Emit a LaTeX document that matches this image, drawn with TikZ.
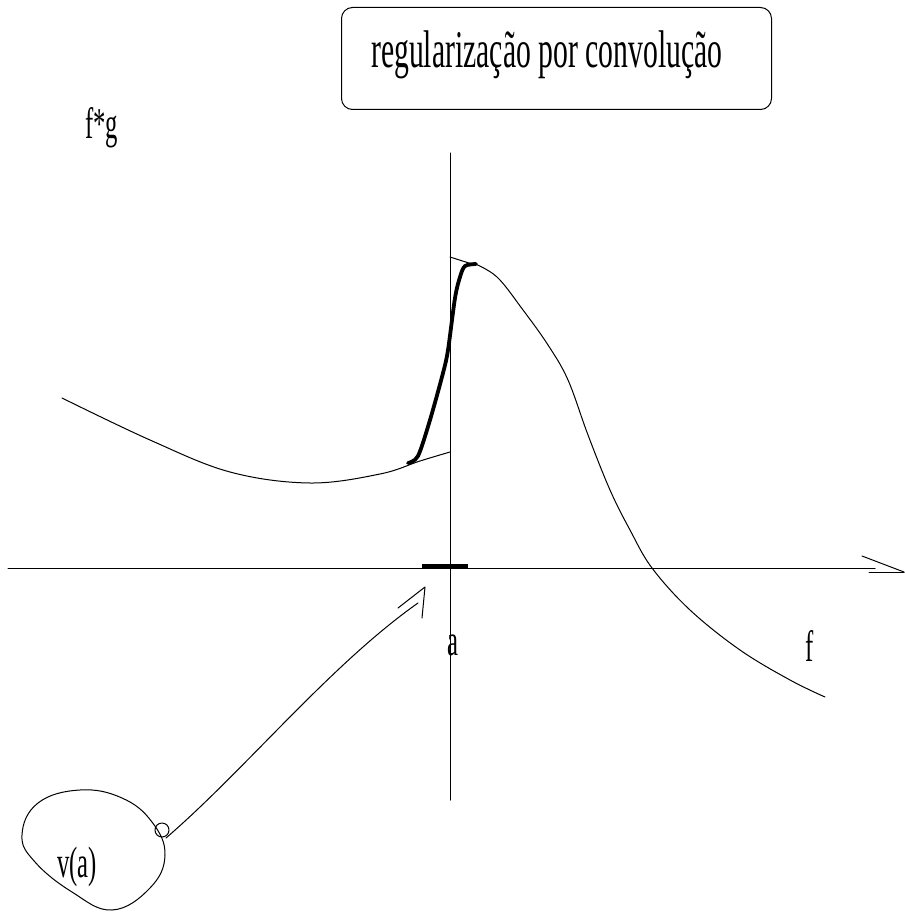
\documentclass[tikz,border=0pt]{standalone}
\usepackage{fontspec}
\setmainfont{Liberation Serif}
\newfontfamily\condf[FakeStretch=0.56]{Liberation Serif}
\begin{document}
\begin{tikzpicture}[x=1pt,y=-1pt,
  thinline/.style={line width=1pt, line cap=round, line join=round},
  boldline/.style={line width=3.8pt, line cap=round, line join=round},
  titlebox/.style={draw, line width=1pt, rounded corners=11pt, minimum width=430pt, minimum height=102pt, inner sep=0pt},
  lbl/.style={font=\condf\fontsize{44}{44}\selectfont, inner sep=0pt, anchor=base west},
  biglbl/.style={font=\condf\fontsize{53}{53}\selectfont, inner sep=0pt, anchor=base west}]
\useasboundingbox (0,0) rectangle (904,912);
% title box
\node[titlebox] (title) at (556.5,58.5) {};
\node[biglbl] (titletext) at (371,68) {regularização por convolução};
% labels
\node[lbl] (fg) at (85,139) {f*g};
\node[lbl] (alab) at (447,655) {a};
\node[lbl] (flab) at (805,661) {f};
\node[lbl] (va) at (57,877) {v(a)};
% axes
\coordinate (ytop) at (450,153);
\coordinate (ybot) at (450,800);
\coordinate (xl) at (8,568);
\coordinate (xr) at (875,568);
\draw[thinline] (ytop) -- (ybot);
\draw[thinline] (xl) -- (xr);
% open arrow tip at end of x axis
\coordinate (xtip) at (904,572);
\draw[thinline] (862,556) -- (xtip);
\draw[thinline] (869,572) -- (xtip);
% bold segment on x axis
\coordinate (sl) at (422,566);
\coordinate (sr) at (468,566);
\draw[boldline, line cap=butt] (sl) -- (sr);
% left part of curve
\draw[thinline] plot[smooth, tension=0.6] coordinates {(62,398) (150,440) (230,472) (310,483) (380,474) (420,461) (450,452)};
% right part of curve
\draw[thinline] plot[smooth, tension=0.6] coordinates {(473,263) (497,277) (523,310) (548,345) (568,380) (588,435) (610,490) (630,530) (652,568) (690,610) (740,650) (790,680) (825,697)};
% thin tangent line at the top
\draw[thinline] (450,257) -- (472,264);
% bold regularised part
\draw[boldline] plot[smooth, tension=0.5] coordinates {(408,463) (418,456) (430,420) (443,373) (448,350) (455,298) (460,277) (465,266) (476,264)};
% blob around v(a)
\draw[thinline] plot[smooth cycle, tension=0.7] coordinates {(80,790) (122,798) (152,822) (165,855) (150,888) (112,910) (72,892) (35,862) (22,835) (38,803)};
\draw[thinline] (162,830) circle (7);
% arrow from blob to the bold segment
\coordinate (loop) at (166,838);
\coordinate (shaftend) at (418,603);
\coordinate (atip) at (425,587);
\draw[thinline] (loop) .. controls (245,770) and (330,665) .. (shaftend);
\draw[thinline] (398,608) -- (atip) -- (422,618);
\end{tikzpicture}
\end{document}
